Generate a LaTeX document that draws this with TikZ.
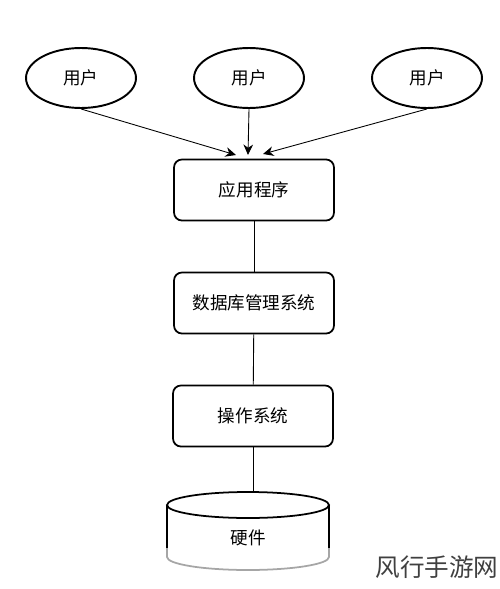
\documentclass[tikz,border=0pt]{standalone}
\usepackage{fontspec}
\newfontfamily\cjk{Noto Sans CJK SC}
\usetikzlibrary{shapes.geometric, arrows.meta}
\tikzset{
    user/.style={ellipse, draw, line width=1.1pt, minimum width=2.2cm, minimum height=1.2cm},
    layer/.style={rectangle, draw, line width=1pt, rounded corners=4.5pt, minimum width=3.2cm, minimum height=1.22cm},
    link/.style={line width=0.5pt},
    flow/.style={line width=0.5pt, -{Stealth[length=6pt,width=5.5pt]}}
}

\begin{document}
\begin{tikzpicture}[x=0.02cm, y=-0.02cm, font=\cjk\fontsize{10}{12}\selectfont]
    \useasboundingbox (0,0) rectangle (500,589);

    % Draw the users
    \node[user] (u1) at (81,78) {用户};
    \node[user] (u2) at (249,78) {用户};
    \node[user] (u3) at (427,78) {用户};

    % Draw the layers
    \node[layer] (app) at (254,190) {应用程序};
    \node[layer] (dbms) at (254,303) {数据库管理系统};
    \node[layer] (os) at (253,416) {操作系统};

    % Arrow ends above the application box
    \coordinate (in1) at (236,155);
    \coordinate (in2) at (248,155);
    \coordinate (in3) at (263,154);
    \coordinate (hwtop) at (253,492); % top of the hardware drum

    % Draw the requests
    \draw[flow] (u1.south) -- (in1);
    \draw[flow] (u2.south) -- (in2);
    \draw[flow] (u3.south) -- (in3);

    % Draw the links between the layers
    \draw[link] (app) -- (dbms);
    \draw[link] (dbms) -- (os);
    \draw[link] (os) -- (hwtop);

    % Draw the hardware drum
    \draw[line width=1pt] (248,505) ellipse[x radius=81, y radius=13];
    \draw[line width=1pt] (167,505) -- (167,548);
    \draw[line width=1pt] (329,505) -- (329,548);
    \draw[line width=1pt, gray!70] (167,548) -- (167,557) arc[start angle=180, end angle=360, x radius=81, y radius=-13] -- (329,548);
    \node (hw) at (248,538) {硬件};

    % Watermark
    \node[text=black!75, font=\cjk\fontsize{14}{16}\selectfont] (mark) at (437,567) {风行手游网};
\end{tikzpicture}
\end{document}
